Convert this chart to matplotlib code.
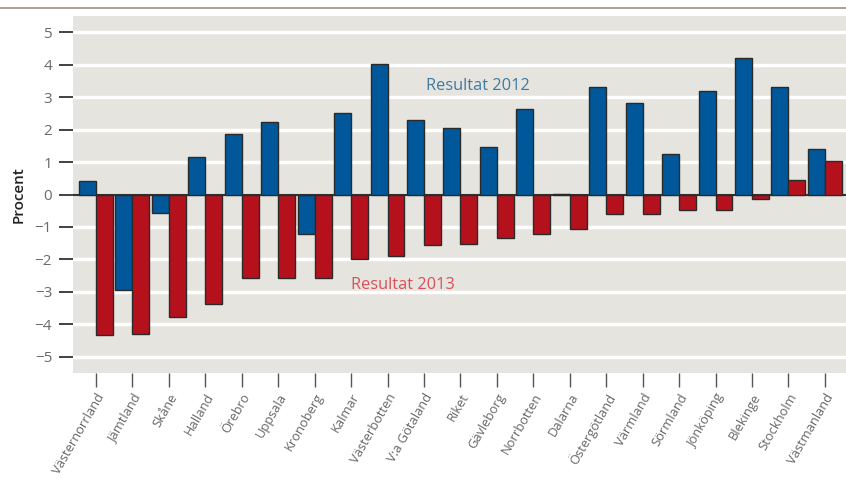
import matplotlib
matplotlib.use("Agg")
import matplotlib.pyplot as plt
import numpy as np

plt.rcParams['font.family'] = ['Open Sans', 'DejaVu Sans']

regions = ["Västernorrland", "Jämtland", "Skåne", "Halland", "Örebro", "Uppsala",
           "Kronoberg", "Kalmar", "Västerbotten", "V:a Götaland", "Riket", "Gävleborg",
           "Norrbotten", "Dalarna", "Östergötland", "Värmland", "Sörmland", "Jönköping",
           "Blekinge", "Stockholm", "Västmanland"]

result_2012 = [0.42, -2.93, -0.58, 1.17, 1.87, 2.22, -1.23, 2.52, 4.01, 2.31, 2.05,
               1.46, 2.64, 0.02, 3.30, 2.81, 1.25, 3.19, 4.22, 3.32, 1.39]
result_2013 = [-4.32, -4.30, -3.76, -3.37, -2.56, -2.56, -2.56, -1.99, -1.88, -1.56,
               -1.51, -1.35, -1.23, -1.05, -0.61, -0.61, -0.47, -0.47, -0.15, 0.46, 1.04]

y_ticks = [-5, -4, -3, -2, -1, 0, 1, 2, 3, 4, 5]
y_ticklabels = ["\u22125", "\u22124", "\u22123", "\u22122", "\u22121", "0",
                "1", "2", "3", "4", "5"]

blue = "#00589b"
red = "#b5111d"
bg = "#e5e4de"

fig = plt.figure(figsize=(8.46, 4.79), dpi=100)
ax = fig.add_axes([73 / 846, 1 - 373 / 479, (846 - 73) / 846, (373 - 16) / 479])
ax.set_facecolor(bg)

x = np.arange(len(regions))
w = 0.465
ax.bar(x - w / 2, result_2012, width=w, color=blue, edgecolor="#2a2a2a",
       linewidth=1.0, zorder=3)
ax.bar(x + w / 2, result_2013, width=w, color=red, edgecolor="#2a2a2a",
       linewidth=1.0, zorder=3)

# horizontal white grid and dark zero line
for yv in y_ticks:
    if yv != 0:
        ax.axhline(yv, color="white", linewidth=2.5, zorder=1)
ax.axhline(0, color="#333333", linewidth=1.5, zorder=2)

ax.set_xlim(-0.63, 20.58)
ax.set_ylim(-5.5, 5.5)

for s in ax.spines.values():
    s.set_visible(False)

ax.set_yticks(y_ticks)
ax.set_yticklabels(y_ticklabels, fontsize=11, color="#6a6a6a")
ax.tick_params(axis="y", length=10, width=1.3, color="#333333", pad=5)

ax.set_xticks(x)
ax.set_xticklabels(regions, rotation=60, ha="right", rotation_mode="anchor",
                   fontsize=9.3, color="#666666")
ax.tick_params(axis="x", length=10, width=1.0, color="#555555", pad=3)

ax.set_ylabel("Procent", fontsize=11, color="#222222", fontweight="semibold")
ax.yaxis.set_label_coords((26 - 73) / 773, 0.5)

ax.text(10.47, 3.35, "Resultat 2012", color="#3f7aa3", fontsize=11.8,
        ha="center", va="center", zorder=4)
ax.text(7.0, -2.78, "Resultat 2013", color="#d9505b", fontsize=11.8,
        ha="left", va="center", zorder=4)

# rule across the top
fig.add_artist(plt.Line2D([0, 1], [1 - 8 / 479, 1 - 8 / 479], color="#a09080",
                          linewidth=1.2, transform=fig.transFigure))

fig.savefig("out.png", dpi=100)
